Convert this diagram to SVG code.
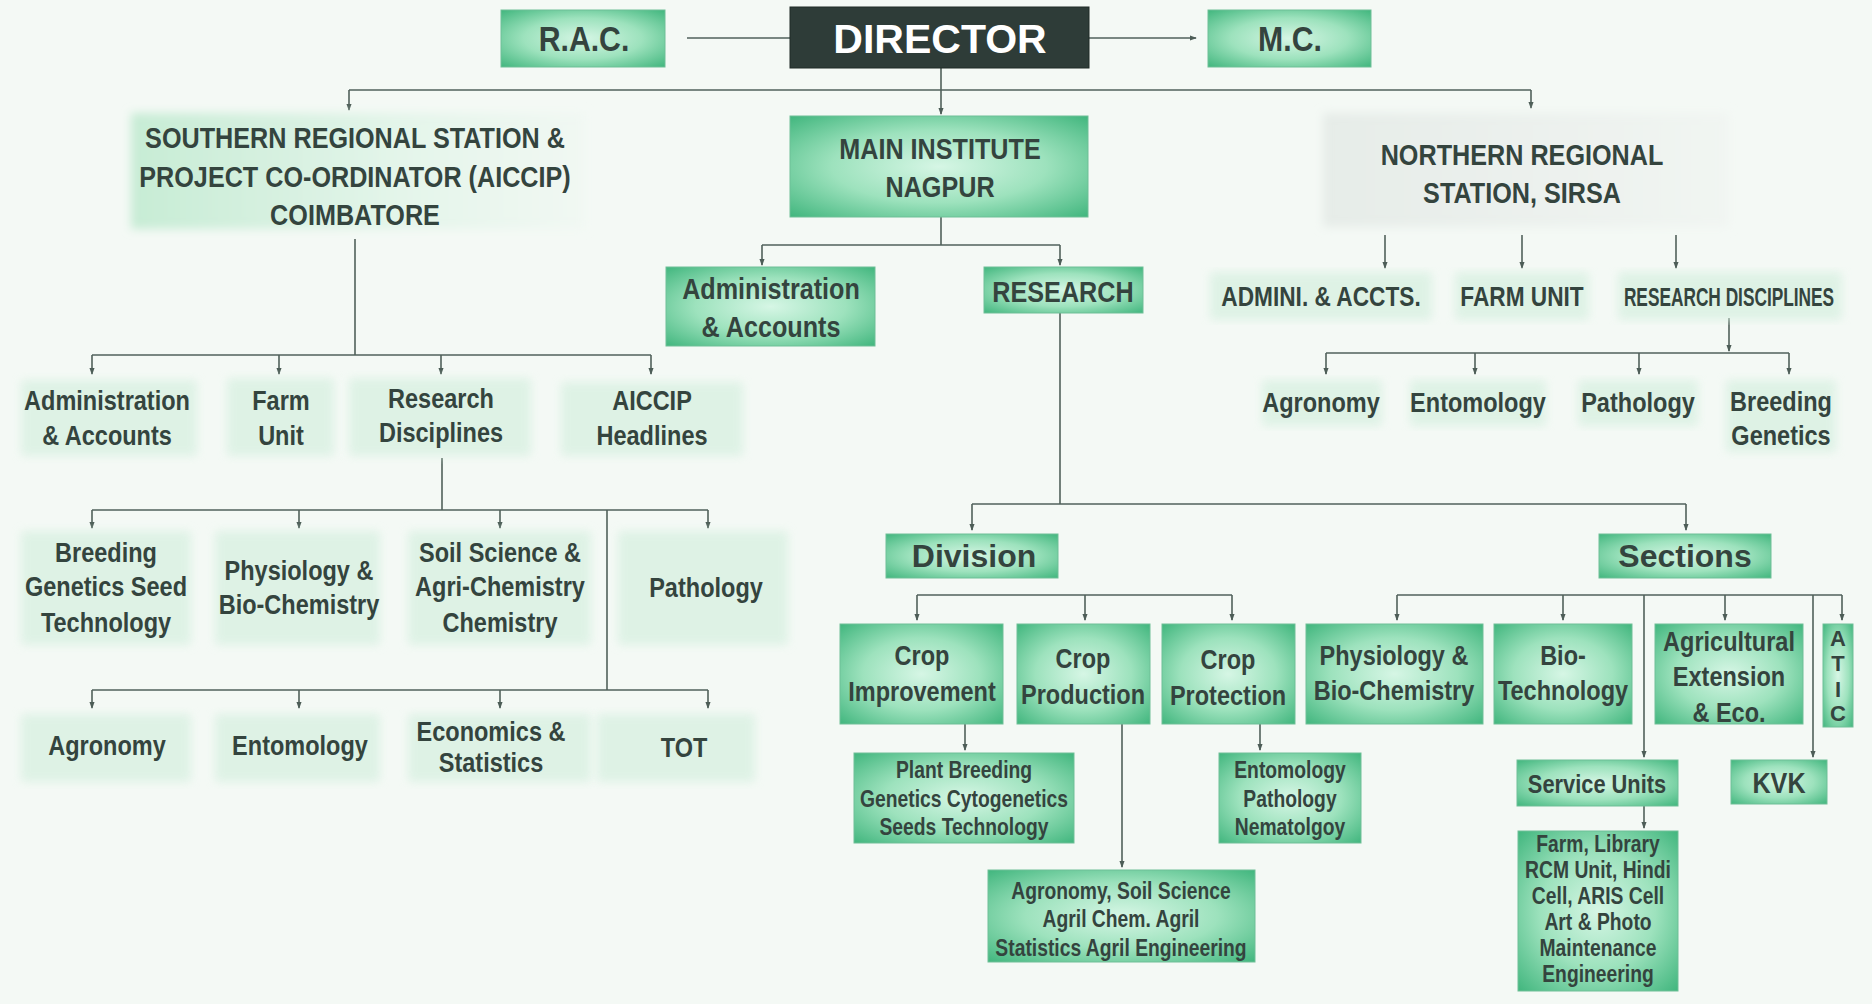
<svg xmlns="http://www.w3.org/2000/svg" width="1872" height="1004" viewBox="0 0 1872 1004">
<defs>
<radialGradient id="g" cx="50%" cy="50%" r="72%">
<stop offset="0" stop-color="#d6f6e5"/>
<stop offset="0.5" stop-color="#9de2bd"/>
<stop offset="1" stop-color="#3db47b"/>
</radialGradient>
<linearGradient id="fs" x1="0" y1="0" x2="1" y2="0">
<stop offset="0" stop-color="#c7ecd5"/>
<stop offset="0.6" stop-color="#e4f5ea"/>
<stop offset="1" stop-color="#f1f8f3"/>
</linearGradient>
<linearGradient id="fn" x1="0" y1="0" x2="1" y2="0">
<stop offset="0" stop-color="#e6ece8"/>
<stop offset="1" stop-color="#f1f5f2"/>
</linearGradient>
<filter id="blur" x="-10%" y="-10%" width="120%" height="120%">
<feGaussianBlur stdDeviation="5"/>
</filter>
<marker id="a" viewBox="0 0 8 8" refX="7" refY="4" markerWidth="7" markerHeight="7" markerUnits="userSpaceOnUse" orient="auto">
<path d="M0,1 L8,4 L0,7 z" fill="#4d5d57"/>
</marker>
<style>
.t{font-family:"Liberation Sans Narrow","Liberation Sans",Arial,sans-serif;font-weight:bold;fill:#34443e;text-anchor:middle}
.w{font-family:"Liberation Sans",Arial,sans-serif;font-weight:bold;text-anchor:middle}
.b{fill:url(#g);stroke:#6fbf97;stroke-width:1}
.f{fill:#d9f1e2;filter:url(#blur);opacity:0.8}
.c{stroke:#51615b;stroke-width:1.6;fill:none}
.ar{marker-end:url(#a)}
.s36{font-size:36px}.s30{font-size:30px}.s28{font-size:28px}.s27{font-size:27px}.s26{font-size:26px}.s23{font-size:23px}.s22{font-size:22px}
</style>
</defs>
<rect x="0" y="0" width="1872" height="1004" fill="#f4f9f5"/>

<g id="connectors">
<line class="c" x1="687" y1="38" x2="790" y2="38"/>
<line class="c ar" x1="1089" y1="38" x2="1196" y2="38"/>
<line class="c ar" x1="941" y1="68" x2="941" y2="114"/>
<line class="c" x1="349" y1="90" x2="1531" y2="90"/>
<line class="c ar" x1="349" y1="90" x2="349" y2="110"/>
<line class="c ar" x1="1531" y1="90" x2="1531" y2="108"/>
<line class="c" x1="941" y1="217" x2="941" y2="245"/>
<line class="c" x1="762" y1="245" x2="1060" y2="245"/>
<line class="c ar" x1="762" y1="245" x2="762" y2="265"/>
<line class="c ar" x1="1060" y1="245" x2="1060" y2="265"/>
<line class="c ar" x1="1385" y1="235" x2="1385" y2="268"/>
<line class="c ar" x1="1522" y1="235" x2="1522" y2="268"/>
<line class="c ar" x1="1676" y1="235" x2="1676" y2="268"/>
<line class="c ar" x1="1729" y1="318" x2="1729" y2="351"/>
<line class="c" x1="1326" y1="353" x2="1789" y2="353"/>
<line class="c ar" x1="1326" y1="353" x2="1326" y2="374"/>
<line class="c ar" x1="1475" y1="353" x2="1475" y2="374"/>
<line class="c ar" x1="1639" y1="353" x2="1639" y2="374"/>
<line class="c ar" x1="1789" y1="353" x2="1789" y2="374"/>
<line class="c" x1="355" y1="239" x2="355" y2="355"/>
<line class="c" x1="92" y1="355" x2="651" y2="355"/>
<line class="c ar" x1="92" y1="355" x2="92" y2="374"/>
<line class="c ar" x1="279" y1="355" x2="279" y2="374"/>
<line class="c ar" x1="441" y1="355" x2="441" y2="374"/>
<line class="c ar" x1="651" y1="355" x2="651" y2="374"/>
<line class="c" x1="442" y1="458" x2="442" y2="510"/>
<line class="c" x1="92" y1="510" x2="708" y2="510"/>
<line class="c ar" x1="92" y1="510" x2="92" y2="528"/>
<line class="c ar" x1="299" y1="510" x2="299" y2="528"/>
<line class="c ar" x1="500" y1="510" x2="500" y2="528"/>
<line class="c ar" x1="708" y1="510" x2="708" y2="528"/>
<line class="c" x1="607" y1="510" x2="607" y2="690"/>
<line class="c" x1="92" y1="690" x2="708" y2="690"/>
<line class="c ar" x1="92" y1="690" x2="92" y2="708"/>
<line class="c ar" x1="299" y1="690" x2="299" y2="708"/>
<line class="c ar" x1="500" y1="690" x2="500" y2="708"/>
<line class="c ar" x1="708" y1="690" x2="708" y2="708"/>
<line class="c" x1="1060" y1="313" x2="1060" y2="504"/>
<line class="c" x1="972" y1="504" x2="1686" y2="504"/>
<line class="c ar" x1="972" y1="504" x2="972" y2="530"/>
<line class="c ar" x1="1686" y1="504" x2="1686" y2="530"/>
<line class="c" x1="917" y1="595" x2="1232" y2="595"/>
<line class="c ar" x1="917" y1="595" x2="917" y2="620"/>
<line class="c ar" x1="1085" y1="595" x2="1085" y2="620"/>
<line class="c ar" x1="1232" y1="595" x2="1232" y2="620"/>
<line class="c" x1="1397" y1="595" x2="1842" y2="595"/>
<line class="c ar" x1="1397" y1="595" x2="1397" y2="620"/>
<line class="c ar" x1="1563" y1="595" x2="1563" y2="620"/>
<line class="c ar" x1="1725" y1="595" x2="1725" y2="620"/>
<line class="c ar" x1="1842" y1="595" x2="1842" y2="620"/>
<line class="c ar" x1="1644" y1="595" x2="1644" y2="757"/>
<line class="c ar" x1="1813" y1="595" x2="1813" y2="757"/>
<line class="c ar" x1="965" y1="724" x2="965" y2="750"/>
<line class="c ar" x1="1122" y1="724" x2="1122" y2="867"/>
<line class="c ar" x1="1260" y1="724" x2="1260" y2="750"/>
<line class="c ar" x1="1644" y1="806" x2="1644" y2="828"/>
</g>

<g id="rac"><rect class="b" x="501" y="10" width="164" height="57"/><text class="t s36" transform="matrix(0.84 0 0 1 584 0)" y="51">R.A.C.</text></g>
<g id="director"><rect x="790" y="7" width="299" height="61" fill="#2e3c38" stroke="#1f2a27"/><text class="w" x="940" y="53" font-size="41" fill="#ffffff">DIRECTOR</text></g>
<g id="mc"><rect class="b" x="1208" y="10" width="163" height="57"/><text class="t s36" transform="matrix(0.84 0 0 1 1290 0)" y="51">M.C.</text></g>

<g id="southern"><rect x="131" y="113" width="454" height="116" fill="url(#fs)" filter="url(#blur)"/>
<text class="t s30" transform="matrix(0.84 0 0 1 355 0)" y="148">SOUTHERN REGIONAL STATION &amp;</text>
<text class="t s30" transform="matrix(0.84 0 0 1 355 0)" y="187">PROJECT CO-ORDINATOR (AICCIP)</text>
<text class="t s30" transform="matrix(0.84 0 0 1 355 0)" y="225">COIMBATORE</text></g>
<g id="main"><rect class="b" x="790" y="116" width="298" height="101"/>
<text class="t s30" transform="matrix(0.84 0 0 1 940 0)" y="159">MAIN INSTITUTE</text>
<text class="t s30" transform="matrix(0.84 0 0 1 940 0)" y="197">NAGPUR</text></g>
<g id="northern"><rect x="1323" y="113" width="406" height="114" fill="url(#fn)" filter="url(#blur)"/>
<text class="t s30" transform="matrix(0.84 0 0 1 1522 0)" y="165">NORTHERN REGIONAL</text>
<text class="t s30" transform="matrix(0.84 0 0 1 1522 0)" y="203">STATION, SIRSA</text></g>

<g id="main-admin"><rect class="b" x="666" y="267" width="209" height="79"/>
<text class="t s30" transform="matrix(0.84 0 0 1 771 0)" y="299">Administration</text>
<text class="t s30" transform="matrix(0.84 0 0 1 771 0)" y="337">&amp; Accounts</text></g>
<g id="research"><rect class="b" x="984" y="267" width="159" height="46"/>
<text class="t s30" transform="matrix(0.84 0 0 1 1063 0)" y="302">RESEARCH</text></g>

<g id="n-admin"><rect class="f" x="1210" y="272" width="222" height="48"/><text class="t s27" transform="matrix(0.84 0 0 1 1321 0)" y="306">ADMINI. &amp; ACCTS.</text></g>
<g id="n-farm"><rect class="f" x="1455" y="272" width="134" height="48"/><text class="t s27" transform="matrix(0.84 0 0 1 1522 0)" y="306">FARM UNIT</text></g>
<g id="n-research"><rect class="f" x="1618" y="272" width="224" height="48"/><text class="t s26" transform="matrix(0.665 0 0 1 1729 0)" y="306">RESEARCH DISCIPLINES</text></g>
<g id="n-agronomy"><rect class="f" x="1262" y="380" width="120" height="46"/><text class="t s28" transform="matrix(0.84 0 0 1 1321 0)" y="412">Agronomy</text></g>
<g id="n-entomology"><rect class="f" x="1410" y="380" width="136" height="46"/><text class="t s28" transform="matrix(0.84 0 0 1 1478 0)" y="412">Entomology</text></g>
<g id="n-pathology"><rect class="f" x="1578" y="380" width="120" height="46"/><text class="t s28" transform="matrix(0.84 0 0 1 1638 0)" y="412">Pathology</text></g>
<g id="n-breeding"><rect class="f" x="1726" y="380" width="110" height="72"/><text class="t s28" transform="matrix(0.84 0 0 1 1781 0)" y="411">Breeding</text><text class="t s28" transform="matrix(0.84 0 0 1 1781 0)" y="445">Genetics</text></g>

<g id="s-admin"><rect class="f" x="21" y="380" width="176" height="76"/><text class="t s28" transform="matrix(0.84 0 0 1 107 0)" y="410">Administration</text><text class="t s28" transform="matrix(0.84 0 0 1 107 0)" y="445">&amp; Accounts</text></g>
<g id="s-farm"><rect class="f" x="227" y="378" width="107" height="78"/><text class="t s28" transform="matrix(0.84 0 0 1 281 0)" y="410">Farm</text><text class="t s28" transform="matrix(0.84 0 0 1 281 0)" y="445">Unit</text></g>
<g id="s-research"><rect class="f" x="349" y="378" width="182" height="78"/><text class="t s28" transform="matrix(0.84 0 0 1 441 0)" y="408">Research</text><text class="t s28" transform="matrix(0.84 0 0 1 441 0)" y="442">Disciplines</text></g>
<g id="s-aiccip"><rect class="f" x="561" y="382" width="182" height="74"/><text class="t s28" transform="matrix(0.84 0 0 1 652 0)" y="410">AICCIP</text><text class="t s28" transform="matrix(0.84 0 0 1 652 0)" y="445">Headlines</text></g>

<g id="s-breeding"><rect class="f" x="21" y="531" width="170" height="114"/><text class="t s28" transform="matrix(0.84 0 0 1 106 0)" y="562">Breeding</text><text class="t s28" transform="matrix(0.84 0 0 1 106 0)" y="596">Genetics Seed</text><text class="t s28" transform="matrix(0.84 0 0 1 106 0)" y="632">Technology</text></g>
<g id="s-physiology"><rect class="f" x="215" y="531" width="165" height="114"/><text class="t s28" transform="matrix(0.84 0 0 1 299 0)" y="580">Physiology &amp;</text><text class="t s28" transform="matrix(0.84 0 0 1 299 0)" y="614">Bio-Chemistry</text></g>
<g id="s-soil"><rect class="f" x="408" y="531" width="183" height="114"/><text class="t s28" transform="matrix(0.84 0 0 1 500 0)" y="562">Soil Science &amp;</text><text class="t s28" transform="matrix(0.84 0 0 1 500 0)" y="596">Agri-Chemistry</text><text class="t s28" transform="matrix(0.84 0 0 1 500 0)" y="632">Chemistry</text></g>
<g id="s-pathology"><rect class="f" x="618" y="531" width="170" height="114"/><text class="t s28" transform="matrix(0.84 0 0 1 706 0)" y="597">Pathology</text></g>

<g id="s-agronomy"><rect class="f" x="21" y="714" width="170" height="68"/><text class="t s28" transform="matrix(0.84 0 0 1 107 0)" y="755">Agronomy</text></g>
<g id="s-entomology"><rect class="f" x="215" y="714" width="165" height="68"/><text class="t s28" transform="matrix(0.84 0 0 1 300 0)" y="755">Entomology</text></g>
<g id="s-economics"><rect class="f" x="408" y="714" width="183" height="68"/><text class="t s28" transform="matrix(0.84 0 0 1 491 0)" y="741">Economics &amp;</text><text class="t s28" transform="matrix(0.84 0 0 1 491 0)" y="772">Statistics</text></g>
<g id="s-tot"><rect class="f" x="597" y="714" width="158" height="68"/><text class="t s28" transform="matrix(0.84 0 0 1 684 0)" y="757">TOT</text></g>

<g id="division"><rect class="b" x="886" y="534" width="172" height="44"/><text class="w" x="974" y="567" font-size="32" fill="#34443e">Division</text></g>
<g id="sections"><rect class="b" x="1599" y="534" width="172" height="44"/><text class="w" x="1685" y="567" font-size="32" fill="#34443e">Sections</text></g>

<g id="crop-improvement"><rect class="b" x="840" y="624" width="163" height="100"/><text class="t s28" transform="matrix(0.84 0 0 1 922 0)" y="665">Crop</text><text class="t s28" transform="matrix(0.84 0 0 1 922 0)" y="701">Improvement</text></g>
<g id="crop-production"><rect class="b" x="1017" y="624" width="133" height="100"/><text class="t s28" transform="matrix(0.84 0 0 1 1083 0)" y="668">Crop</text><text class="t s28" transform="matrix(0.84 0 0 1 1083 0)" y="704">Production</text></g>
<g id="crop-protection"><rect class="b" x="1162" y="624" width="133" height="100"/><text class="t s28" transform="matrix(0.84 0 0 1 1228 0)" y="669">Crop</text><text class="t s28" transform="matrix(0.84 0 0 1 1228 0)" y="705">Protection</text></g>
<g id="physiology"><rect class="b" x="1306" y="624" width="177" height="100"/><text class="t s28" transform="matrix(0.84 0 0 1 1394 0)" y="665">Physiology &amp;</text><text class="t s28" transform="matrix(0.84 0 0 1 1394 0)" y="700">Bio-Chemistry</text></g>
<g id="biotech"><rect class="b" x="1494" y="624" width="138" height="100"/><text class="t s28" transform="matrix(0.84 0 0 1 1563 0)" y="665">Bio-</text><text class="t s28" transform="matrix(0.84 0 0 1 1563 0)" y="700">Technology</text></g>
<g id="agri-ext"><rect class="b" x="1655" y="624" width="148" height="100"/><text class="t s28" transform="matrix(0.84 0 0 1 1729 0)" y="651">Agricultural</text><text class="t s28" transform="matrix(0.84 0 0 1 1729 0)" y="686">Extension</text><text class="t s28" transform="matrix(0.84 0 0 1 1729 0)" y="722">&amp; Eco.</text></g>
<g id="atic"><rect class="b" x="1823" y="624" width="30" height="103"/><text class="t s22" x="1838" y="646">A</text><text class="t s22" x="1838" y="671">T</text><text class="t s22" x="1838" y="697">I</text><text class="t s22" x="1838" y="721">C</text></g>

<g id="plant-breeding"><rect class="b" x="854" y="753" width="220" height="90"/><text class="t s23" transform="matrix(0.84 0 0 1 964 0)" y="778">Plant Breeding</text><text class="t s23" transform="matrix(0.84 0 0 1 964 0)" y="807">Genetics Cytogenetics</text><text class="t s23" transform="matrix(0.84 0 0 1 964 0)" y="835">Seeds Technology</text></g>
<g id="entomology-box"><rect class="b" x="1219" y="753" width="142" height="90"/><text class="t s23" transform="matrix(0.84 0 0 1 1290 0)" y="778">Entomology</text><text class="t s23" transform="matrix(0.84 0 0 1 1290 0)" y="807">Pathology</text><text class="t s23" transform="matrix(0.84 0 0 1 1290 0)" y="835">Nematolgoy</text></g>
<g id="agronomy-box"><rect class="b" x="988" y="870" width="267" height="92"/><text class="t s23" transform="matrix(0.84 0 0 1 1121 0)" y="899">Agronomy, Soil Science</text><text class="t s23" transform="matrix(0.84 0 0 1 1121 0)" y="927">Agril Chem. Agril</text><text class="t s23" transform="matrix(0.84 0 0 1 1121 0)" y="956">Statistics Agril Engineering</text></g>
<g id="service-units"><rect class="b" x="1517" y="760" width="161" height="46"/><text class="t s26" transform="matrix(0.84 0 0 1 1597 0)" y="793">Service Units</text></g>
<g id="kvk"><rect class="b" x="1731" y="760" width="96" height="44"/><text class="t s30" transform="matrix(0.84 0 0 1 1779 0)" y="793">KVK</text></g>
<g id="farm-library"><rect class="b" x="1518" y="831" width="160" height="160"/><text class="t s23" transform="matrix(0.84 0 0 1 1598 0)" y="852">Farm, Library</text><text class="t s23" transform="matrix(0.84 0 0 1 1598 0)" y="878">RCM Unit, Hindi</text><text class="t s23" transform="matrix(0.84 0 0 1 1598 0)" y="904">Cell, ARIS Cell</text><text class="t s23" transform="matrix(0.84 0 0 1 1598 0)" y="930">Art &amp; Photo</text><text class="t s23" transform="matrix(0.84 0 0 1 1598 0)" y="956">Maintenance</text><text class="t s23" transform="matrix(0.84 0 0 1 1598 0)" y="982">Engineering</text></g>
</svg>
